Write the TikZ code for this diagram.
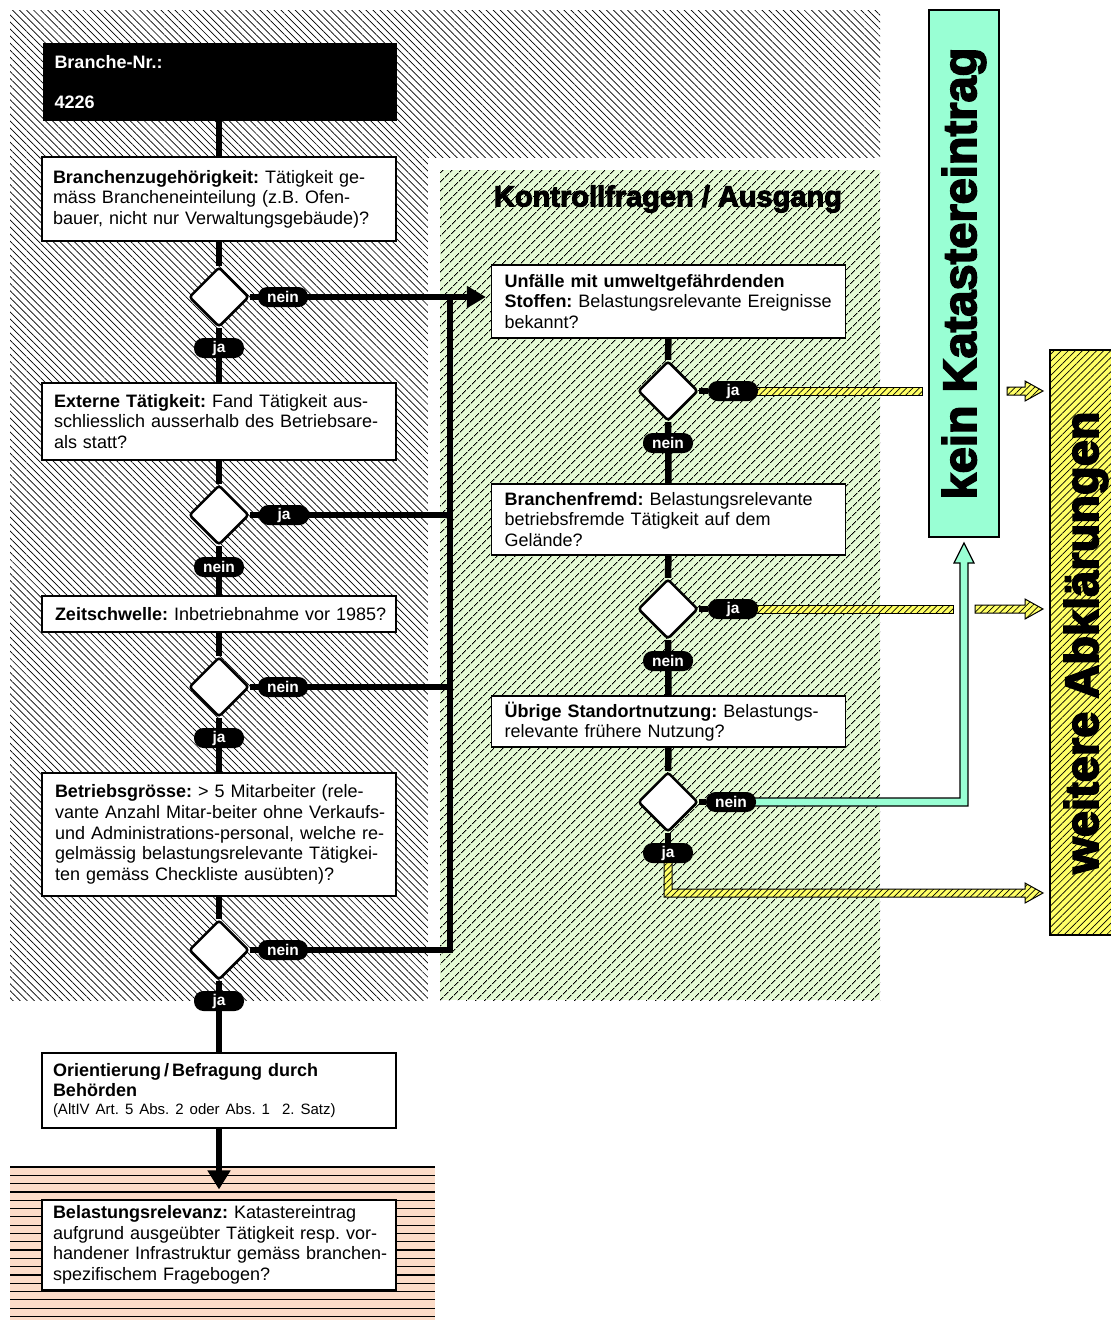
\documentclass[tikz,border=0pt]{standalone}
\usepackage{fontspec}
\setmainfont{Liberation Sans}
\newfontfamily\heavy[FakeBold=3.5]{Liberation Sans}
\usetikzlibrary{shapes.geometric,arrows.meta,patterns.meta,calc}
\definecolor{greenbg}{RGB}{228,250,212}
\definecolor{aqua}{RGB}{153,255,212}
\definecolor{yel}{RGB}{255,255,102}
\definecolor{salmon}{RGB}{252,220,200}
\pgfdeclarelayer{bg}\pgfdeclarelayer{lines}\pgfsetlayers{bg,lines,main}
\newcommand\boxfont{\frenchspacing\fontsize{18}{20.6}\selectfont}
\newcommand\yshaft[2]{\path[yarrow] ($(#1)+(0,-4)$) rectangle ($(#2)+(0,4)$);}
\newcommand\yhead[2]{\path[yarrow] ($(#1)+(0,-4)$) -- ($(#2)+(-18,-4)$) -- ($(#2)+(-18,-10)$) -- (#2) -- ($(#2)+(-18,10)$) -- ($(#2)+(-18,4)$) -- ($(#1)+(0,4)$) -- cycle;}
\begin{document}
\begin{tikzpicture}[x=1pt,y=-1pt,
  qbox/.style={draw, line width=1.2pt, fill=white, text width=340pt, inner xsep=7pt, inner ysep=0pt, align=left, font=\boxfont, minimum height=#1},
  dia/.style={shape=diamond, draw, fill=white, line width=2.5pt, minimum width=60pt, minimum height=60pt, inner sep=0pt, rounded corners=3pt},
  pill/.style={fill=black, text=white, font=\bfseries\fontsize{15.5}{16}\selectfont, rounded corners=9.5pt, minimum width=50pt, minimum height=20pt, inner sep=0pt},
  conn/.style={line width=6.5pt, black},
  yarrow/.style={preaction={fill=yel}, pattern={Lines[angle=45,distance=4.5pt,line width=0.7pt]}, pattern color=black, draw=black, line width=1pt},
  tealarrow/.style={fill=aqua, draw=black, line width=1.2pt},
  bigtext/.style={font=\heavy\bfseries\fontsize{47}{50}\selectfont}
]
\useasboundingbox (0,0) rectangle (1111,1320);
\begin{pgfonlayer}{bg}
\fill[white] (0,0) rectangle (1111,1320);
\path[pattern={Lines[angle=-45,distance=5pt,line width=0.7pt]}, pattern color=black] (10,10) rectangle (880,1000);
\fill[white] (428,158) rectangle (881,1001);
\path[fill=greenbg, postaction={pattern={Lines[angle=45,distance=6.5pt,line width=0.9pt]}, pattern color=black}] (440,170) rectangle (880,1000);
\fill[salmon] (10,1166) rectangle (435,1320);
\foreach \k in {0,...,18} \draw[line width=1.2pt] (10,1167+8.3*\k) -- (435,1167+8.3*\k);
\end{pgfonlayer}

% left column
\node[fill=black, text=white, text width=330pt, inner xsep=12pt, minimum height=78pt, align=left, font=\bfseries\fontsize{18}{20}\selectfont] (b0) at (219.5,82) {Branche-Nr.:\\[20pt]4226};
\node[qbox=84pt] (q1) at (219,199) {\hspace*{4pt}\textbf{Branchenzugehörigkeit:} Tätigkeit ge-\\\hspace*{4pt}mäss Brancheneinteilung (z.B. Ofen-\\\hspace*{4pt}bauer, nicht nur Verwaltungsgebäude)?};
\node[dia] (d1) at (219,297) {};
\node[qbox=77pt] (q2) at (219,421.5) {\hspace*{5pt}\textbf{Externe Tätigkeit:} Fand Tätigkeit aus-\\\hspace*{5pt}schliesslich ausserhalb des Betriebsare-\\\hspace*{5pt}als statt?};
\node[dia] (d2) at (219,515) {};
\node[qbox=36pt] (q3) at (219,614) {\hspace*{6pt}\textbf{Zeitschwelle:} Inbetriebnahme vor 1985?};
\node[dia] (d3) at (219,687) {};
\node[qbox=123pt] (q4) at (219,834.5) {\hspace*{6pt}\textbf{Betriebsgrösse:} > 5 Mitarbeiter (rele-\\\hspace*{6pt}vante Anzahl Mitar-beiter ohne Verkaufs-\\\hspace*{6pt}und Administrations-personal, welche re-\\\hspace*{6pt}gelmässig belastungsrelevante Tätigkei-\\\hspace*{6pt}ten gemäss Checkliste ausübten)?};
\node[dia] (d4) at (219,950) {};
\node[qbox=75pt] (q5) at (219,1090.5) {\hspace*{4pt}\textbf{Orientierung\,/\,Befragung durch}\\\hspace*{4pt}\textbf{Behörden}\\[-2.6pt]\hspace*{4pt}{\fontsize{15}{18}\selectfont (AltIV Art. 5 Abs. 2 oder Abs. 1\ \ 2. Satz)}};
\node[qbox=90pt] (q6) at (219,1245) {\hspace*{4pt}\textbf{Belastungsrelevanz:} Katastereintrag\\\hspace*{4pt}aufgrund ausgeübter Tätigkeit resp. vor-\\\hspace*{4pt}handener Infrastruktur gemäss branchen-\\\hspace*{4pt}spezifischem Fragebogen?};

\node[pill] (p1n) at (283,297) {nein};
\node[pill] (p1j) at (219,348) {ja};
\node[pill] (p2j) at (284,515) {ja};
\node[pill] (p2n) at (219,567) {nein};
\node[pill] (p3n) at (283,687) {nein};
\node[pill] (p3j) at (219,738) {ja};
\node[pill] (p4n) at (283,950) {nein};
\node[pill] (p4j) at (219,1001) {ja};

% right column
\node[font=\heavy\bfseries\fontsize{29}{32}\selectfont] (title) at (668,199) {Kontrollfragen / Ausgang};
\node[qbox=73pt] (r1) at (668.5,301.5) {\hspace*{6pt}\textbf{Unfälle mit umweltgefährdenden}\\\hspace*{6pt}\textbf{Stoffen:} Belastungsrelevante Ereignisse\\\hspace*{6pt}bekannt?};
\node[dia] (rd1) at (668,391) {};
\node[qbox=71pt] (r2) at (668.5,519.5) {\hspace*{6pt}\textbf{Branchenfremd:} Belastungsrelevante\\\hspace*{6pt}betriebsfremde Tätigkeit auf dem\\\hspace*{6pt}Gelände?};
\node[dia] (rd2) at (668,609) {};
\node[qbox=51pt] (r3) at (668.5,721.5) {\hspace*{6pt}\textbf{Übrige Standortnutzung:} Belastungs-\\\hspace*{6pt}relevante frühere Nutzung?};
\node[dia] (rd3) at (668,802) {};

\node[pill] (pr1j) at (733,391) {ja};
\node[pill] (pr1n) at (668,443) {nein};
\node[pill] (pr2j) at (733,609) {ja};
\node[pill] (pr2n) at (668,661) {nein};
\node[pill] (pr3n) at (731,802) {nein};
\node[pill] (pr3j) at (668,853) {ja};

% outcome bars
\node[fill=aqua, draw, line width=1.2pt, minimum width=70pt, minimum height=527pt, inner sep=0pt, bigtext] (kein) at (964,273.5) {\rotatebox{90}{kein Katastereintrag}};
\node[preaction={fill=yel}, pattern={Lines[angle=45,distance=5pt,line width=0.7pt]}, pattern color=black, draw, line width=1.2pt, minimum width=72pt, minimum height=585pt, inner sep=0pt, bigtext] (weit) at (1086,642.5) {\rotatebox{90}{weitere Abklärungen}};

\coordinate (bartop) at (450,297);
\coordinate (ya1e) at (922,391);
\coordinate (ya1s) at (1007,391);
\coordinate (ya1t) at (1043,391);
\coordinate (ya2e) at (953,609);
\coordinate (ya2s) at (975,609);
\coordinate (ya2t) at (1043,609);
\coordinate (ya3t) at (1043,893);
\coordinate (tt) at (964,543);

\begin{pgfonlayer}{lines}
\draw[conn] (b0.south -| q1.north) -- (q1.north);
\draw[conn] (q1) -- (d1);
\draw[conn] (d1) -- (q2);
\draw[conn] (q2) -- (d2);
\draw[conn] (d2) -- (q3);
\draw[conn] (q3) -- (d3);
\draw[conn] (d3) -- (q4);
\draw[conn] (q4) -- (d4);
\draw[conn] (d4) -- (q5);
\draw[conn,-{Triangle[length=19pt,width=22pt]}, shorten >=10pt] (q5.south) -- (q6.north);
\draw[conn,-{Triangle[length=19pt,width=21pt]}, shorten >=5pt] (d1.east) -- (d1 -| r1.west);
\draw[conn] (d2.east) -- (d2 -| bartop);
\draw[conn] (d3.east) -- (d3 -| bartop);
\draw[conn] (d4.east) -| (bartop);
\draw[conn] (r1) -- (rd1);
\draw[conn] (rd1) -- (r2);
\draw[conn] (r2) -- (rd2);
\draw[conn] (rd2) -- (r3);
\draw[conn] (r3) -- (rd3);
\draw[conn] (rd3) -- (pr3j);
\draw[conn] (rd1) -- (pr1j);
\draw[conn] (rd2) -- (pr2j);
\draw[conn] (rd3) -- (pr3n);
% yellow arrows
\yshaft{pr1j}{ya1e}
\yhead{ya1s}{ya1t}
\yshaft{pr2j}{ya2e}
\yhead{ya2s}{ya2t}
\path[yarrow] ($(pr3j)+(-4,0)$) -- ($(pr3j |- ya3t)+(-4,4)$) -- ($(ya3t)+(-18,4)$) -- ($(ya3t)+(-18,10)$) -- (ya3t) -- ($(ya3t)+(-18,-10)$) -- ($(ya3t)+(-18,-4)$) -- ($(pr3j |- ya3t)+(4,-4)$) -- ($(pr3j)+(4,0)$) -- cycle;
% teal arrow
\path[tealarrow] ($(pr3n)+(0,-4)$) -- ($(pr3n -| tt)+(-4,-4)$) -- ($(tt)+(-4,20)$) -- ($(tt)+(-10,20)$) -- (tt) -- ($(tt)+(10,20)$) -- ($(tt)+(4,20)$) -- ($(pr3n -| tt)+(4,4)$) -- ($(pr3n)+(0,4)$) -- cycle;
\end{pgfonlayer}
\end{tikzpicture}
\end{document}
